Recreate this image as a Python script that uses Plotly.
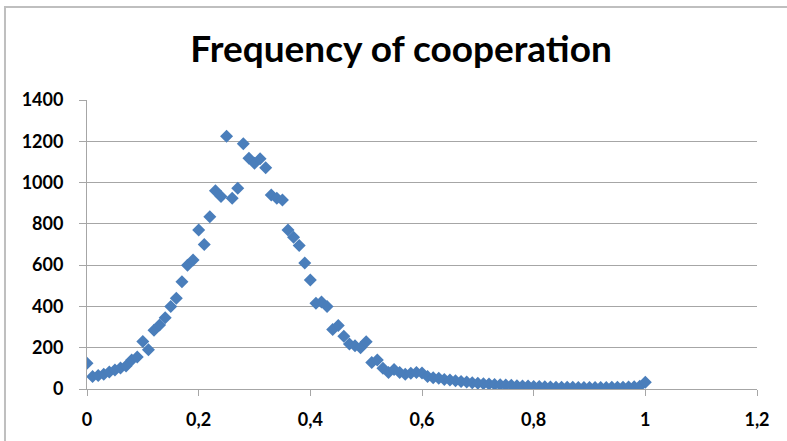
import plotly.graph_objects as go

# Data
coop_share = [0.00, 0.01, 0.02, 0.03, 0.04, 0.05, 0.06, 0.07, 0.08, 0.09,
              0.10, 0.11, 0.12, 0.13, 0.14, 0.15, 0.16, 0.17, 0.18, 0.19,
              0.20, 0.21, 0.22, 0.23, 0.24, 0.25, 0.26, 0.27, 0.28, 0.29,
              0.30, 0.31, 0.32, 0.33, 0.34, 0.35, 0.36, 0.37, 0.38, 0.39,
              0.40, 0.41, 0.42, 0.43, 0.44, 0.45, 0.46, 0.47, 0.48, 0.49,
              0.50, 0.51, 0.52, 0.53, 0.54, 0.55, 0.56, 0.57, 0.58, 0.59,
              0.60, 0.61, 0.62, 0.63, 0.64, 0.65, 0.66, 0.67, 0.68, 0.69,
              0.70, 0.71, 0.72, 0.73, 0.74, 0.75, 0.76, 0.77, 0.78, 0.79,
              0.80, 0.81, 0.82, 0.83, 0.84, 0.85, 0.86, 0.87, 0.88, 0.89,
              0.90, 0.91, 0.92, 0.93, 0.94, 0.95, 0.96, 0.97, 0.98, 0.99,
              1.00]

frequency = [125, 60, 65, 72, 82, 92, 102, 112, 140, 155,
             230, 190, 285, 310, 345, 400, 440, 520, 600, 625,
             770, 700, 835, 960, 932, 1225, 924, 972, 1188, 1118,
             1093, 1115, 1072, 940, 924, 915, 770, 735, 695, 610,
             528, 415, 422, 400, 288, 308, 255, 218, 210, 200,
             229, 128, 140, 100, 80, 95, 80, 72, 76, 80,
             78, 60, 55, 52, 46, 44, 40, 36, 34, 30,
             28, 26, 24, 22, 20, 19, 18, 16, 15, 14,
             12, 12, 11, 10, 9, 9, 8, 8, 7, 7,
             7, 7, 7, 7, 8, 8, 9, 10, 11, 13,
             33]

x_tick_vals = [0, 0.2, 0.4, 0.6, 0.8, 1.0, 1.2]
x_tick_text = ["0", "0,2", "0,4", "0,6", "0,8", "1", "1,2"]
y_tick_vals = [0, 200, 400, 600, 800, 1000, 1200, 1400]
y_tick_text = ["0", "200", "400", "600", "800", "1000", "1200", "1400"]

fig = go.Figure()
fig.add_trace(go.Scatter(
    x=coop_share, y=frequency, mode="markers",
    marker=dict(symbol="diamond", size=10, color="#4A7EBB",
                line=dict(width=0)),
    showlegend=False,
))

tick_font = dict(family="Lato", size=18, color="#000000", weight="bold")

fig.update_layout(
    width=787, height=441,
    margin=dict(l=87, r=30, t=100, b=52),
    paper_bgcolor="white", plot_bgcolor="white",
    title=dict(text="<b>Frequency of cooperation</b>", x=0.5096, xref="container",
               xanchor="center", y=0.888, yref="container", yanchor="middle",
               font=dict(family="Lato", size=37, color="#000000")),
    xaxis=dict(range=[0, 1.2], tickvals=x_tick_vals, ticktext=x_tick_text,
               showgrid=False, zeroline=False, showline=True,
               linecolor="#A6A6A6", linewidth=1, ticks="outside",
               ticklen=6, tickcolor="#A6A6A6", tickfont=tick_font,
               ticklabelstandoff=8),
    yaxis=dict(range=[0, 1400], tickvals=y_tick_vals, ticktext=y_tick_text,
               showgrid=True, gridcolor="#A6A6A6", gridwidth=1,
               zeroline=False, showline=True, linecolor="#A6A6A6",
               linewidth=1, ticks="outside", ticklen=7,
               tickcolor="#A6A6A6", tickfont=tick_font,
               ticklabelstandoff=12),
    shapes=[dict(type="rect", xref="paper", yref="paper",
                 x0=-0.1224, x1=1.3, y0=-0.5, y1=1.3218,
                 line=dict(color="#BFBFBF", width=2), layer="below")],
)

fig.write_html("out.html")
